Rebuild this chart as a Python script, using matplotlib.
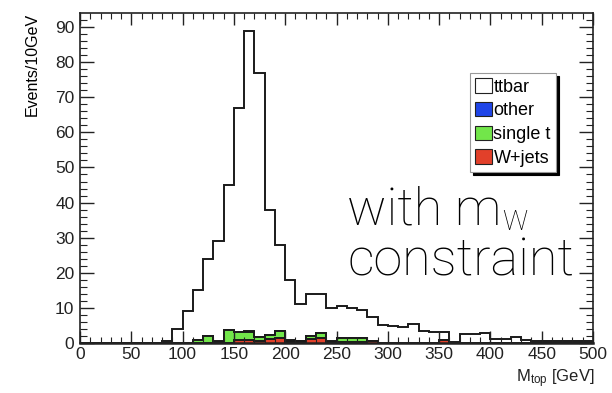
import numpy as np
import matplotlib
matplotlib.use("Agg")
import matplotlib.pyplot as plt
from matplotlib.patches import Patch

plt.rcParams["font.family"] = ["Liberation Sans", "DejaVu Sans"]
plt.rcParams["mathtext.fontset"] = "custom"
plt.rcParams["mathtext.rm"] = "Liberation Sans"
plt.rcParams["mathtext.it"] = "Liberation Sans"

# 10 GeV bins from 0 to 500 GeV
bin_edges = np.arange(0, 510, 10)

ttbar = [0, 0, 0, 0, 0, 0, 0, 0, 0.5, 4.0,
         9.0, 14.2, 22.0, 28.4, 41.3, 63.8, 85.5, 75.4, 35.8, 24.5,
         17.1, 10.3, 12.1, 11.2, 9.4, 9.0, 8.5, 8.0, 6.7, 5.0,
         4.8, 4.6, 5.4, 3.3, 3.1, 2.2, 0.4, 2.5, 2.5, 2.9,
         1.2, 1.1, 1.8, 0.9, 0.7, 0.6, 0.6, 0.5, 0.7, 0.6]
other = [0, 0, 0, 0, 0, 0, 0, 0, 0, 0,
         0, 0, 0, 0.3, 0, 0.2, 0.3, 0, 0, 0,
         0.2, 0, 0, 0, 0.2, 0, 0, 0, 0, 0,
         0, 0, 0, 0, 0, 0, 0, 0, 0, 0,
         0, 0, 0, 0, 0, 0, 0, 0, 0, 0]
single_t = [0, 0, 0, 0, 0, 0, 0, 0, 0, 0,
            0, 0.8, 2.0, 0.3, 3.7, 2.2, 2.3, 1.1, 1.1, 2.1,
            0.5, 0.5, 0.8, 1.5, 0.2, 1.2, 1.2, 1.1, 0, 0,
            0, 0, 0, 0, 0, 0, 0, 0, 0, 0,
            0, 0, 0, 0, 0, 0, 0, 0, 0, 0]
wjets = [0, 0, 0, 0, 0, 0, 0, 0, 0, 0,
         0, 0, 0, 0, 0, 0.8, 0.9, 0.5, 1.1, 1.4,
         0.2, 0.2, 1.1, 1.3, 0.2, 0.3, 0.3, 0.4, 0.6, 0,
         0, 0, 0, 0, 0, 0.9, 0, 0, 0, 0,
         0, 0, 0, 0, 0, 0, 0, 0, 0, 0]

labels = ["ttbar", "other", "single t", "W+jets"]
colors = ["white", "#1f45e8", "#72e64a", "#e2402a"]

fig = plt.figure(figsize=(6.12, 3.93), dpi=100)
W, H = 612, 393
ax = fig.add_axes([80 / W, 1 - 343 / H, (593 - 80) / W, (343 - 13) / H])

# stacked histogram: W+jets at the bottom, ttbar on top
layers = [np.array(wjets), np.array(single_t), np.array(other), np.array(ttbar)]
cum = np.cumsum(layers, axis=0)
layer_colors = [colors[3], colors[2], colors[1], colors[0]]
edge = "#1a1a1a"
for k in range(3, -1, -1):
    ax.stairs(cum[k], bin_edges, baseline=0, fill=True,
              facecolor=layer_colors[k], edgecolor="none")
    ax.stairs(cum[k], bin_edges, baseline=0, fill=False,
              color=edge, lw=1.4)

ax.set_xlim(0, 500)
ax.set_ylim(0, 94)
ax.set_xticks(np.arange(0, 501, 50))
ax.set_xticks(np.arange(0, 501, 10), minor=True)
ax.set_yticks(np.arange(0, 91, 10))
ax.set_yticks(np.arange(0, 94, 2), minor=True)
ax.tick_params(axis="both", which="both", direction="in", top=True, right=True,
               labelsize=12.5, colors="#222222")
ax.tick_params(axis="y", which="major", length=10, width=1.0, pad=4)
ax.tick_params(axis="y", which="minor", length=5, width=0.8)
ax.tick_params(axis="x", which="major", length=8.5, width=1.0, pad=3)
ax.tick_params(axis="x", which="minor", length=4.5, width=0.8)
for s in ax.spines.values():
    s.set_color("#222222")
    s.set_linewidth(1.2)
ax.spines["bottom"].set_linewidth(1.8)

ax.set_ylabel("Events/10GeV", fontsize=11.5, loc="top", labelpad=11)
fig.text(595 / W, 1 - 382 / H, r"M$_{\rm top}$ [GeV]", ha="right", va="baseline",
         fontsize=12, color="#222222")

handles = [Patch(facecolor=c, edgecolor="#222222", lw=0.8) for c in colors]
leg = ax.legend(handles, labels, loc="upper left",
                bbox_to_anchor=(470 / W, 1 - 73 / H), bbox_transform=fig.transFigure,
                fontsize=13, frameon=True, fancybox=False,
                shadow={"facecolor": "black", "edgecolor": "black", "alpha": 1},
                handlelength=0.9, handleheight=0.85, handletextpad=0.1,
                labelspacing=0.34, borderpad=0.3, borderaxespad=0)
leg.get_frame().set_edgecolor("#999999")
leg.get_frame().set_linewidth(0.8)

ann = dict(family=["Roboto", "DejaVu Sans"], weight="light", color="black")
fig.text(347 / W, 1 - 225 / H, "with m", fontsize=37.5, va="baseline", **ann)
fig.text(502 / W, 1 - 230 / H, "W", fontsize=20, va="baseline", **ann)
fig.text(347 / W, 1 - 275 / H, "constraint", fontsize=37.5, va="baseline", **ann)

fig.savefig("out.png", dpi=100)
